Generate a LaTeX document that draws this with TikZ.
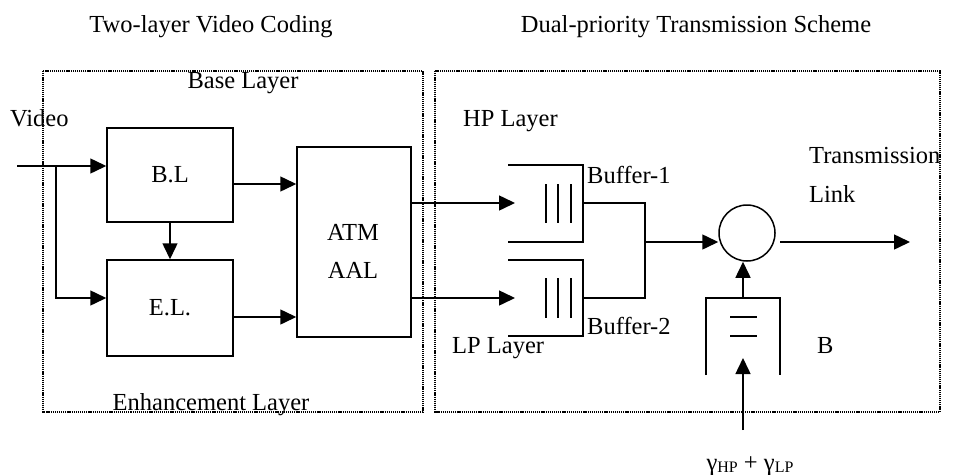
\documentclass[tikz,border=0pt]{standalone}
\usepackage{fontspec}
\setmainfont{Liberation Serif}
\usetikzlibrary{arrows.meta}
\tikzset{
  x=1pt, y=-1pt,
  ln/.style={line width=1.5pt},
  arr/.style={ln, -{Triangle[length=16pt,width=15pt]}},
  blk/.style={draw, line width=1.5pt, inner sep=0pt, font=\fontsize{24.5}{29}\selectfont},
  txt/.style={inner sep=0pt, font=\fontsize{24.5}{29}\selectfont},
  dotbox/.style={line width=1.2pt, dash pattern=on 1.2pt off 0.9pt},
}
\begin{document}
\begin{tikzpicture}
\useasboundingbox (0,0) rectangle (957,474);
% titles
\node[txt, anchor=base] (t1) at (211,32) {Two-layer Video Coding};
\node[txt, anchor=base] (t2) at (696,32) {Dual-priority Transmission Scheme};
% dotted frames
\draw[dotbox] (43,71) rectangle (423,412);
\draw[dotbox] (435,71) rectangle (940,412);
% labels left
\node[txt, anchor=base] (bl) at (243,88) {Base Layer};
\node[txt, anchor=base west] (vid) at (10,126) {Video};
\node[txt, anchor=base] (el) at (211,410) {Enhancement Layer};
% blocks
\node[blk, minimum width=126pt, minimum height=94pt] (BL) at (170,175) {B.L};
\node[blk, minimum width=126pt, minimum height=96pt] (EL) at (170,308) {E.L.};
\node[blk, minimum width=114pt, minimum height=190pt] (ATM) at (354,242) {};
\node[txt, anchor=base] (atm1) at (353,240) {ATM};
\node[txt, anchor=base] (atm2) at (353,278) {AAL};
% video input
\coordinate (vin) at (17,166);
\coordinate (vsplit) at (56,166);
\coordinate (elin) at (56,298);
\draw[arr] (vin) -- (vin -| BL.west);
\draw[arr] (vsplit) -- (elin) -- (elin -| EL.west);
\draw[arr] (BL.south) -- (EL.north);
\coordinate (a1) at (0,184);
\coordinate (a2) at (0,317);
\draw[arr] (BL.east |- a1) -- (ATM.west |- a1);
\draw[arr] (EL.east |- a2) -- (ATM.west |- a2);
% right part labels
\node[txt, anchor=base west] (hp) at (463,126) {HP Layer};
\node[txt, anchor=base west] (lp) at (452,353) {LP Layer};
\node[txt, anchor=base west] (b1l) at (587,183) {Buffer-1};
\node[txt, anchor=base west] (b2l) at (587,334) {Buffer-2};
\node[txt, anchor=base west] (tl1) at (809,163) {Transmission};
\node[txt, anchor=base west] (tl2) at (809,202) {Link};
\node[txt, anchor=base west] (bb) at (817,353) {B};
% ATM to buffers
\coordinate (b1in) at (515,203);
\coordinate (b2in) at (515,298);
\draw[arr] (b1in -| ATM.east) -- (b1in);
\draw[arr] (b2in -| ATM.east) -- (b2in);
% buffer 1
\draw[ln] (508,165) -- (583,165) -- (583,242) -- (508,242);
\foreach \x in {546,558,571} \draw[ln] (\x,184) -- (\x,223);
% buffer 2
\draw[ln] (508,260) -- (583,260) -- (583,336) -- (508,336);
\foreach \x in {546,558,571} \draw[ln] (\x,278) -- (\x,318);
% merge
\coordinate (o1) at (583,203);
\coordinate (o2) at (583,298);
\coordinate (junc) at (645,242);
\draw[ln] (o1) -- (o1 -| junc) -- (o2 -| junc) -- (o2);
\node[draw, circle, line width=1.5pt, minimum size=56pt, inner sep=0pt] (circ) at (747,233) {};
\draw[arr] (junc) -- (junc -| circ.west);
\coordinate (outs) at (780,242);
\coordinate (oute) at (910,242);
\draw[arr] (outs) -- (oute);
% buffer B
\coordinate (Btop) at (743,298);
\draw[ln] (706,375) -- (706,298) -- (780,298) -- (780,375);
\draw[ln] (730,317) -- (757,317);
\draw[ln] (730,336) -- (757,336);
\draw[arr] (Btop) -- (Btop |- circ.south);
\coordinate (gin) at (743,430);
\coordinate (gtip) at (743,358);
\draw[arr] (gin) -- (gtip);
\node[txt, anchor=base] (gam) at (750,470) {γ\raisebox{-2pt}{\fontsize{16}{16}\selectfont HP} + γ\raisebox{-2pt}{\fontsize{16}{16}\selectfont LP}};
\end{tikzpicture}
\end{document}
